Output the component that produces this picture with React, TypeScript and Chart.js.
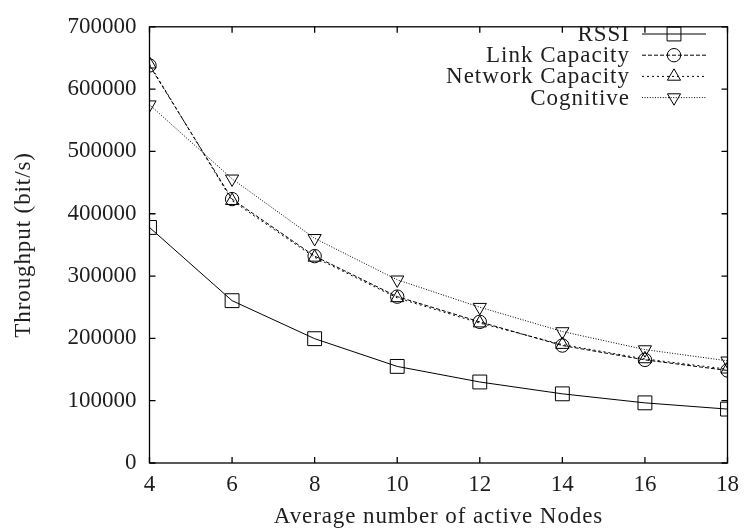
import React, { useEffect, useRef } from "react";
import { Chart, registerables } from "chart.js";

Chart.register(...registerables);

const nodes = [4, 6, 8, 10, 12, 14, 16, 18];
const rssi = [378000, 260500, 199500, 155000, 130000, 111000, 96500, 86500];
const linkCapacity = [638000, 423500, 332000, 267000, 226500, 188500, 165500, 148500];
const networkCapacity = [640000, 421000, 330000, 265000, 224500, 190000, 167000, 150500];
const cognitive = [575000, 456000, 360500, 294000, 250000, 211000, 182000, 164000];

const xTicks = [4, 6, 8, 10, 12, 14, 16, 18];
const yTicks = [0, 100000, 200000, 300000, 400000, 500000, 600000, 700000];

const xTitle = "Average number of active Nodes";
const yTitle = "Throughput (bit/s)";

const FONT = "'Liberation Serif', 'Times New Roman', serif";
const TEXT = "#1e1e1e";

const toPts = (vals: number[]) => nodes.map((x, i) => ({ x, y: vals[i] }));

function drawMarker(ctx: CanvasRenderingContext2D, style: string, x: number, y: number, r: number, rot: number) {
  ctx.beginPath();
  if (style === "rect") {
    const s = Math.SQRT1_2 * r;
    ctx.rect(x - s, y - s, 2 * s, 2 * s);
  } else if (style === "circle") {
    ctx.arc(x, y, r, 0, Math.PI * 2);
  } else if (style === "triangle") {
    let rad = (rot * Math.PI) / 180;
    ctx.moveTo(x + Math.sin(rad) * r, y - Math.cos(rad) * r);
    for (let k = 0; k < 2; k++) {
      rad += (2 * Math.PI) / 3;
      ctx.lineTo(x + Math.sin(rad) * r, y - Math.cos(rad) * r);
    }
    ctx.closePath();
  }
  ctx.stroke();
}

const framePlugin = {
  id: "gnuframe",
  afterDraw(chart: any) {
    const { ctx, chartArea } = chart;
    const xs = chart.scales.x;
    const ys = chart.scales.y;
    const L = chartArea.left, R = chartArea.right, T = chartArea.top, B = chartArea.bottom;
    ctx.save();
    ctx.strokeStyle = "#000";
    ctx.lineWidth = 1.3;
    ctx.setLineDash([]);
    ctx.strokeRect(L, T, R - L, B - T);
    const tl = 6;
    ctx.beginPath();
    xTicks.forEach((v) => {
      const px = xs.getPixelForValue(v);
      ctx.moveTo(px, B);
      ctx.lineTo(px, B - tl);
      ctx.moveTo(px, T);
      ctx.lineTo(px, T + tl);
    });
    yTicks.forEach((v) => {
      const py = ys.getPixelForValue(v);
      ctx.moveTo(L, py);
      ctx.lineTo(L + tl, py);
      ctx.moveTo(R, py);
      ctx.lineTo(R - tl, py);
    });
    ctx.stroke();

    // axis titles
    ctx.fillStyle = TEXT;
    ctx.font = `23px ${FONT}`;
    (ctx as any).letterSpacing = "0.9px";
    ctx.textAlign = "center";
    ctx.textBaseline = "middle";
    ctx.fillText(xTitle, (L + R) / 2, 517);
    ctx.save();
    ctx.translate(24, (T + B) / 2);
    ctx.rotate(-Math.PI / 2);
    ctx.fillText(yTitle, 0, 0);
    ctx.restore();

    // legend (gnuplot style: text left of the sample)
    const textRight = 629;
    const sx0 = 642;
    const sx1 = 706;
    const y0 = 34;
    const dy = 21.2;
    (ctx as any).letterSpacing = "1px";
    ctx.textAlign = "left";
    chart.data.datasets.forEach((ds: any, i: number) => {
      const y = y0 + i * dy;
      ctx.fillStyle = TEXT;
      const w = ctx.measureText(ds.label).width;
      ctx.fillText(ds.label, textRight - w + 1, y + 1);
      ctx.strokeStyle = "#000";
      ctx.lineWidth = ds.borderWidth;
      ctx.setLineDash(ds.borderDash || []);
      ctx.beginPath();
      ctx.moveTo(sx0, y);
      ctx.lineTo(sx1, y);
      ctx.stroke();
      ctx.setLineDash([]);
      drawMarker(ctx, ds.pointStyle, (sx0 + sx1) / 2, y, ds.pointRadius, ds.rotation || 0);
    });
    (ctx as any).letterSpacing = "0px";
    ctx.restore();
  },
};

function makeDataset(label: string, vals: number[], dash: number[], style: string, radius: number, rotation = 0) {
  return {
    label,
    data: toPts(vals),
    borderColor: "#000",
    borderWidth: 1,
    borderDash: dash,
    pointStyle: style,
    pointRadius: radius,
    pointHoverRadius: radius,
    rotation,
    pointRotation: rotation,
    pointBorderColor: "#000",
    pointBorderWidth: 1,
    pointBackgroundColor: "rgba(0,0,0,0)",
    backgroundColor: "rgba(0,0,0,0)",
    tension: 0,
    fill: false,
  };
}

export default function App() {
  const ref = useRef<HTMLCanvasElement>(null);
  useEffect(() => {
    if (!ref.current) return;
    const chart = new Chart(ref.current, {
      type: "line",
      data: {
        datasets: [
          makeDataset("RSSI", rssi, [], "rect", 9.8),
          makeDataset("Link Capacity", linkCapacity, [4, 2], "circle", 6.7),
          makeDataset("Network Capacity", networkCapacity, [2, 3], "triangle", 7.6),
          makeDataset("Cognitive", cognitive, [1, 1.6], "triangle", 7.6, 180),
        ] as any,
      },
      options: {
        animation: false,
        responsive: false,
        maintainAspectRatio: false,
        layout: { padding: { top: 16, right: 15, left: 0, bottom: 0 } },
        plugins: {
          legend: { display: false },
          tooltip: { enabled: false },
        },
        scales: {
          x: {
            type: "linear",
            min: 4,
            max: 18,
            afterFit: (s: any) => {
              s.height = 69;
            },
            afterBuildTicks: (s: any) => {
              s.ticks = xTicks.map((v) => ({ value: v }));
            },
            grid: { display: false, drawTicks: false },
            border: { display: false },
            ticks: {
              padding: 8,
              color: TEXT,
              font: { family: FONT, size: 23 },
              maxRotation: 0,
              autoSkip: false,
            },
            title: { display: false },
          },
          y: {
            type: "linear",
            min: 0,
            max: 700000,
            afterFit: (s: any) => {
              s.width = 149.5;
            },
            afterBuildTicks: (s: any) => {
              s.ticks = yTicks.map((v) => ({ value: v }));
            },
            grid: { display: false, drawTicks: false },
            border: { display: false },
            ticks: {
              padding: 13,
              color: TEXT,
              font: { family: FONT, size: 23 },
              autoSkip: false,
              callback: (v: any) => String(v),
            },
            title: { display: false },
          },
        },
      },
      plugins: [framePlugin],
    });
    return () => chart.destroy();
  }, []);
  return (
    <div style={{ position: "fixed", left: 0, top: 0, width: 747, height: 532, background: "#fff" }}>
      <canvas ref={ref} width={747} height={532} style={{ display: "block", width: 747, height: 532 }} />
    </div>
  );
}
